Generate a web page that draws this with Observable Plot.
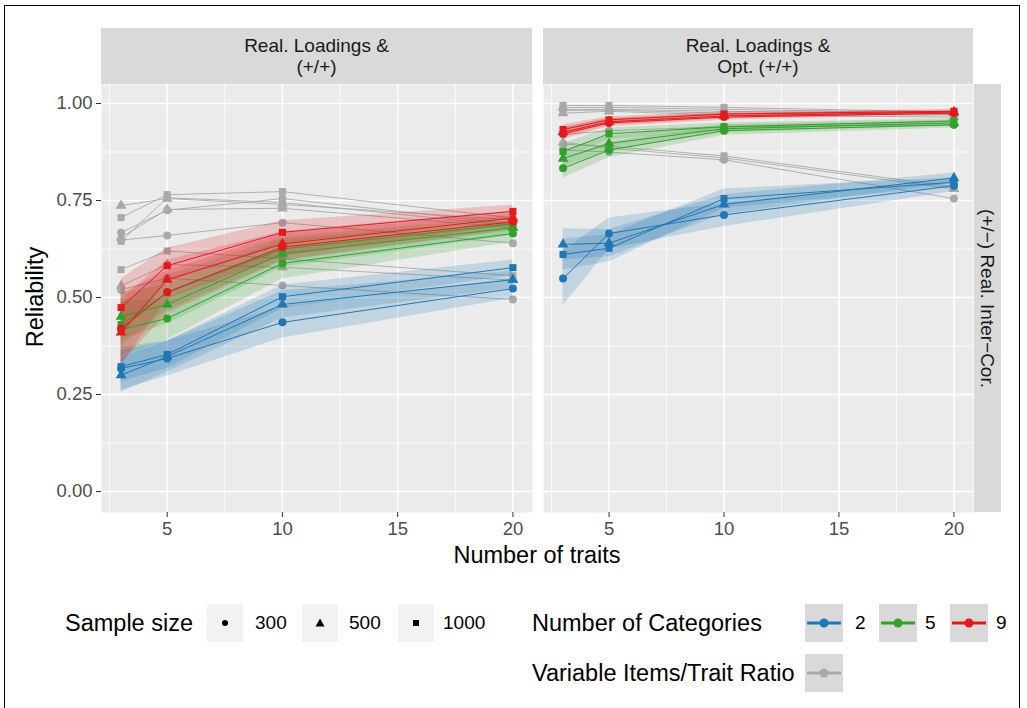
<!DOCTYPE html>
<html><head><meta charset="utf-8">
<script src="https://cdn.jsdelivr.net/npm/d3@7"></script>
<script src="https://cdn.jsdelivr.net/npm/@observablehq/plot@0.6"></script>
<style>
body{margin:0;background:#fff;font-family:"Liberation Sans",Arial,Helvetica,sans-serif;}
#wrap{position:relative;width:1027px;height:708px;overflow:hidden;background:#fff;}
.abs{position:absolute;}
.strip{position:absolute;background:#D9D9D9;color:#1a1a1a;font-size:19px;line-height:21px;display:flex;align-items:center;justify-content:center;text-align:center;}
.ttl{position:absolute;font-size:23.5px;line-height:24px;color:#000;white-space:nowrap;}
.lab{position:absolute;font-size:19px;line-height:20px;color:#000;white-space:nowrap;}
.key{position:absolute;}
</style></head><body>
<div id="wrap"></div>
<script>
// ---------- data ----------
const traits = [3, 5, 10, 20];
const sampleSizes = [300, 500, 1000];
const categories = [2, 5, 9];
const catColors = ["#1F78B4", "#33A02C", "#E31A1C"];
const grayColor = "#A9A9A9";
const xTicks = [5, 10, 15, 20];
const xMinor = [2.5, 7.5, 12.5, 17.5];
const yTicks = [0, 0.25, 0.5, 0.75, 1];
const yMinor = [0.125, 0.375, 0.625, 0.875];
const panelTitles = ["Real. Loadings &\n(+/+)", "Real. Loadings &\nOpt. (+/+)"];
const rowTitle = "(+/\u2212) Real. Inter\u2212Cor.";

// left panel: [n=300, n=500, n=1000], values at traits 3,5,10,20
const leftBlue  = [[0.317,0.343,0.436,0.523],[0.300,0.348,0.482,0.546],[0.322,0.353,0.502,0.577]];
const leftGreen = [[0.418,0.446,0.588,0.665],[0.451,0.482,0.613,0.680],[0.430,0.512,0.625,0.690]];
const leftRed   = [[0.420,0.514,0.630,0.695],[0.410,0.546,0.638,0.705],[0.474,0.582,0.668,0.722]];
const leftBlueBand  = [[0.055,0.045,0.040,0.025],[0.045,0.040,0.035,0.022],[0.040,0.035,0.030,0.020]];
const leftGreenBand = [[0.070,0.055,0.040,0.022],[0.060,0.050,0.035,0.020],[0.055,0.045,0.030,0.018]];
const leftRedBand   = [[0.090,0.055,0.035,0.020],[0.085,0.050,0.032,0.018],[0.075,0.045,0.030,0.016]];
const leftGray300  = [[0.667,0.725,0.755,0.690],[0.648,0.660,0.693,0.640],[0.520,0.550,0.531,0.495]];
const leftGray500  = [[0.737,0.755,0.740,0.700],[0.655,0.727,0.730,0.680],[0.530,0.585,0.578,0.545]];
const leftGray1000 = [[0.706,0.765,0.773,0.705],[0.645,0.757,0.745,0.685],[0.572,0.620,0.600,0.556]];

// right panel
const rightBlue  = [[0.549,0.665,0.713,0.788],[0.637,0.640,0.740,0.808],[0.611,0.627,0.755,0.797]];
const rightGreen = [[0.833,0.880,0.930,0.945],[0.858,0.897,0.935,0.950],[0.876,0.922,0.940,0.955]];
const rightRed   = [[0.922,0.950,0.965,0.975],[0.926,0.953,0.968,0.978],[0.933,0.958,0.973,0.980]];
const rightBlueBand  = [[0.070,0.040,0.030,0.015],[0.040,0.035,0.025,0.013],[0.040,0.035,0.025,0.012]];
const rightGreenBand = [[0.025,0.020,0.012,0.008],[0.022,0.018,0.010,0.007],[0.020,0.015,0.010,0.006]];
const rightRedBand   = [[0.015,0.010,0.008,0.005],[0.013,0.009,0.007,0.005],[0.012,0.008,0.006,0.004]];
const rightGray300  = [[0.985,0.985,0.980,0.972],[0.920,0.930,0.940,0.945],[0.880,0.875,0.855,0.755]];
const rightGray500  = [[0.990,0.990,0.985,0.975],[0.975,0.980,0.970,0.965],[0.900,0.885,0.860,0.780]];
const rightGray1000 = [[0.995,0.995,0.990,0.978],[0.982,0.983,0.975,0.970],[0.895,0.890,0.865,0.785]];

// ---------- tables ----------
function coloredRows(sets, bands) {
  const rows = [];
  categories.forEach((c, ci) => sampleSizes.forEach((n, ni) => traits.forEach((t, ti) => {
    const v = sets[ci][ni][ti], h = bands[ci][ni][ti];
    rows.push({id: c + "-" + n, cat: c, n, trait: t, value: v, lo: v - h, hi: v + h});
  })));
  return rows;
}
function grayRows(sets) {
  const rows = [];
  sampleSizes.forEach((n, ni) => sets[ni].forEach((line, li) => traits.forEach((t, ti) => {
    rows.push({id: n + "-" + li, n, trait: t, value: line[ti]});
  })));
  return rows;
}
const leftCol = coloredRows([leftBlue, leftGreen, leftRed], [leftBlueBand, leftGreenBand, leftRedBand]);
const rightCol = coloredRows([rightBlue, rightGreen, rightRed], [rightBlueBand, rightGreenBand, rightRedBand]);
const leftGray = grayRows([leftGray300, leftGray500, leftGray1000]);
const rightGray = grayRows([rightGray300, rightGray500, rightGray1000]);

function panel(col, gray, showY, width, marginLeft, marginRight) {
  return Plot.plot({
    width, height: 460, marginLeft, marginRight, marginTop: 0, marginBottom: 32,
    x: {domain: [2.15, 20.85]},
    y: {domain: [-0.054, 1.049], axis: showY ? undefined : null},
    color: {type: "ordinal", domain: categories, range: catColors},
    symbol: {domain: sampleSizes, range: ["circle", "triangle", "square"]},
    style: {fontFamily: '"Liberation Sans", Arial, sans-serif', background: "transparent", overflow: "visible"},
    marks: [
      Plot.frame({fill: "#EBEBEB", stroke: "none"}),
      Plot.ruleY(yMinor, {stroke: "white", strokeWidth: 0.8}),
      Plot.ruleX(xMinor, {stroke: "white", strokeWidth: 0.8}),
      Plot.ruleY(yTicks, {stroke: "white", strokeWidth: 1.6}),
      Plot.ruleX(xTicks, {stroke: "white", strokeWidth: 1.6}),
      Plot.line(gray, {x: "trait", y: "value", z: "id", stroke: grayColor, strokeWidth: 0.9}),
      Plot.dot(gray, {x: "trait", y: "value", symbol: "n", fill: grayColor, r: 4}),
      Plot.areaY(col, {x: "trait", y1: "lo", y2: "hi", z: "id", fill: "cat", fillOpacity: 0.2}),
      Plot.line(col, {x: "trait", y: "value", z: "id", stroke: "cat", strokeWidth: 1}),
      Plot.dot(col, {x: "trait", y: "value", symbol: "n", fill: "cat", r: 4}),
      Plot.axisX({ticks: xTicks, tickSize: 5, tickPadding: 4, fontSize: 18.5, fill: "#4d4d4d", stroke: "#333", label: null}),
      showY ? Plot.axisY({ticks: yTicks, tickFormat: d3.format(".2f"), tickSize: 5, tickPadding: 4, fontSize: 18.5, fill: "#4d4d4d", stroke: "#333", label: null}) : null
    ]
  });
}

const wrap = document.getElementById("wrap");
function place(el, left, top) { el.style.position = "absolute"; el.style.left = left + "px"; el.style.top = top + "px"; wrap.appendChild(el); return el; }
function div(cls, text, css) { const d = document.createElement("div"); d.className = cls; d.textContent = text; Object.assign(d.style, css); wrap.appendChild(d); return d; }

// frame border
div("abs", "", {left: "4px", top: "5px", width: "1016px", height: "720px", border: "1.5px solid #000", boxSizing: "border-box"});

place(panel(leftCol, leftGray, true, 540, 101, 8), 0, 84);
place(panel(rightCol, rightGray, false, 430, 0, 0), 543, 84);

// strips
const s1 = div("strip", "", {left: "101px", top: "28px", width: "431px", height: "56px"});
s1.innerHTML = panelTitles[0].replace("\n", "<br>");
const s2 = div("strip", "", {left: "543px", top: "28px", width: "430px", height: "56px"});
s2.innerHTML = panelTitles[1].replace("\n", "<br>");
const s3 = div("strip", "", {left: "974px", top: "84px", width: "27px", height: "428px"});
const s3t = document.createElement("span"); s3t.textContent = rowTitle; s3t.style.writingMode = "vertical-rl"; s3t.style.whiteSpace = "nowrap"; s3.appendChild(s3t);

// axis titles
div("ttl", "Number of traits", {left: "537px", top: "543px", transform: "translateX(-50%)"});
div("ttl", "Reliability", {left: "35px", top: "297px", transform: "translate(-50%,-50%) rotate(-90deg)"});

// legend
function keySvg(w, h, inner) {
  const ns = "http://www.w3.org/2000/svg";
  const s = document.createElementNS(ns, "svg");
  s.setAttribute("width", w); s.setAttribute("height", h);
  s.innerHTML = inner; return s;
}
div("ttl", "Sample size", {left: "65px", top: "611px"});
const shapeSvgs = [
  '<circle cx="18" cy="19" r="3" fill="#000"/>',
  '<polygon points="18,14.5 22.5,22.5 13.5,22.5" fill="#000"/>',
  '<rect x="15" y="16" width="6" height="6" fill="#000"/>'
];
const ssX = [207, 302, 398], ssLabX = [255, 349, 443];
sampleSizes.forEach((n, i) => {
  const k = div("key", "", {left: ssX[i] + "px", top: "604px", width: "36px", height: "38px", background: "#F2F2F2"});
  k.appendChild(keySvg(36, 38, shapeSvgs[i]));
  div("lab", String(n), {left: ssLabX[i] + "px", top: "613px"});
});
div("ttl", "Number of Categories", {left: "532px", top: "611px"});
const ckX = [805, 879, 950], ckLabX = [855, 925, 996];
categories.forEach((c, i) => {
  const k = div("key", "", {left: ckX[i] + "px", top: "604px", width: "38px", height: "38px", background: "#D9D9D9"});
  k.appendChild(keySvg(38, 38, `<line x1="2" x2="36" y1="19" y2="19" stroke="${catColors[i]}" stroke-width="3"/><circle cx="19" cy="19" r="4.5" fill="${catColors[i]}"/>`));
  div("lab", String(c), {left: ckLabX[i] + "px", top: "613px"});
});
div("ttl", "Variable Items/Trait Ratio", {left: "532px", top: "661px"});
const gk = div("key", "", {left: "805px", top: "654px", width: "38px", height: "38px", background: "#D9D9D9"});
gk.appendChild(keySvg(38, 38, `<line x1="2" x2="36" y1="19" y2="19" stroke="${grayColor}" stroke-width="3"/><circle cx="19" cy="19" r="4.5" fill="${grayColor}"/>`));
</script>
</body></html>
